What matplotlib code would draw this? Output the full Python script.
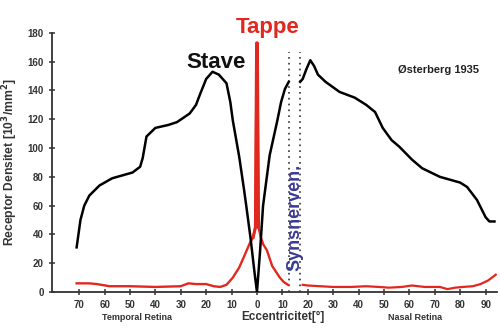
import numpy as np
import matplotlib
matplotlib.use("Agg")
import matplotlib.pyplot as plt

plt.rcParams["font.family"] = ["Liberation Sans", "DejaVu Sans"]
plt.rcParams["font.weight"] = "bold"

# ----------------------------------------------------------------------
# Data (eccentricity in degrees, temporal side negative; density 10^3/mm^2)
# ----------------------------------------------------------------------
stave_temporal_x = [-71, -69.5, -68, -66, -62, -57, -53, -49, -46, -45, -43.5,
                    -40, -35, -31.5, -26.5, -24, -22.5, -20, -17.5, -15, -12,
                    -10.5, -9.5, -7, -5, -4, -2.5, -1, 0, 1.2, 2.4, 5, 8,
                    9.5, 11, 12.5]
stave_temporal_y = [31, 50, 60, 67, 74, 79, 81, 83, 87, 93, 108,
                    114, 116, 118, 124, 130, 137, 148, 153, 151, 145,
                    132, 119, 94, 70, 57, 37, 14, 0, 28, 60, 95, 119,
                    132, 141, 146]

stave_nasal_x = [17, 18, 19.5, 21, 22.5, 24, 27, 32.5, 38.5, 43, 46.5, 49.5,
                 53, 56, 61, 65, 72, 80, 82.7, 86.6, 90, 91.5, 93.5]
stave_nasal_y = [146, 148, 155, 161, 157, 151, 146, 139, 135, 130, 125, 114,
                 105.5, 101, 92, 86, 80, 76, 73, 64, 52, 49, 49]

tappe_temporal_x = [-71, -66, -63, -58, -50, -40, -30, -27, -24, -20, -17,
                    -14.5, -12, -9.5, -7, -5, -2.8, -1.5, -0.6,
                    -0.15, 0.15, 0.6, 1.5, 2.5, 3.9, 6, 9, 10.5, 12.2]
tappe_temporal_y = [6, 6, 5.5, 4, 4, 3.5, 4, 6, 5.5, 5.5, 4,
                    3.5, 5, 10, 17, 25, 34, 38, 45,
                    173, 173, 45, 38, 33, 29, 18, 10, 7, 5]

tappe_nasal_x = [18, 20, 25, 30, 37, 43, 48, 52, 57, 61, 66, 72, 75, 78, 81,
                 85, 88, 91, 94]
tappe_nasal_y = [5, 4.5, 4, 3.5, 3.5, 4, 3.5, 3, 3.5, 4.5, 3.5, 3.5, 2, 3,
                 3.5, 4, 5.5, 8, 12]

optic_disc_x = [12.5, 17]          # blind spot borders
x_ticks = list(range(-70, 100, 10))
y_ticks = list(range(0, 200, 20))

# ----------------------------------------------------------------------
# Plot
# ----------------------------------------------------------------------
fig = plt.figure(figsize=(5.0, 3.29), dpi=100)
ax = fig.add_axes([0.104, 0.1125, 0.89, 0.7875])

red = "#e2271f"
ax.plot(tappe_temporal_x, tappe_temporal_y, color=red, lw=1.7, zorder=2)
# the foveal cone peak is drawn a bit heavier
ax.plot(tappe_temporal_x[17:22], tappe_temporal_y[17:22], color=red, lw=2.2,
        zorder=2)
ax.plot(tappe_nasal_x, tappe_nasal_y, color=red, lw=1.6, zorder=2)
ax.plot(stave_temporal_x, stave_temporal_y, color="black", lw=1.8, zorder=3)
ax.plot(stave_nasal_x, stave_nasal_y, color="black", lw=1.8, zorder=3)

for xd in optic_disc_x:
    ax.plot([xd, xd], [0, 167], color="#333333", lw=1.2, ls=(0, (1, 2.5)), zorder=1)

ax.set_xlim(-80.7, 94.5)
ax.set_ylim(0, 180)
ax.set_xticks(x_ticks)
ax.set_xticklabels([str(abs(t)) for t in x_ticks])
ax.set_yticks(y_ticks)

for side in ("top", "right"):
    ax.spines[side].set_visible(False)
for side in ("left", "bottom"):
    ax.spines[side].set_color("#333333")
    ax.spines[side].set_linewidth(1.3)
ax.tick_params(direction="inout", length=5, width=1.1, color="#333333",
               labelsize=7, labelcolor="#333333")

ax.set_ylabel("Receptor Densitet [10$^3$/mm$^2$]", fontsize=8.7,
              fontweight="bold", color="#333333", labelpad=5)

fig.text(0.565, 0.018, "Eccentricitet[°]", fontsize=8.5, fontweight="bold",
         color="#333333", ha="center", va="bottom")
fig.text(0.274, 0.02, "Temporal Retina", fontsize=6.5, fontweight="bold",
         color="#333333", ha="center", va="bottom")
fig.text(0.83, 0.02, "Nasal Retina", fontsize=6.5, fontweight="bold",
         color="#333333", ha="center", va="bottom")

ax.text(-16, 155.5, "Stave", fontsize=16, fontweight="bold", color="#111111",
        ha="center", va="baseline")
ax.text(4, 180, "Tappe", fontsize=16, fontweight="bold", color=red,
        ha="center", va="baseline", clip_on=False)
ax.text(71.3, 154, "Østerberg 1935", fontsize=8, fontweight="bold",
        color="#222222", ha="center", va="center")
ax.text(15, 52, "Synsnerven.", fontsize=13, fontweight="bold", color="#3a3a96",
        rotation=90, ha="center", va="center")

fig.savefig("out.png", dpi=100)
